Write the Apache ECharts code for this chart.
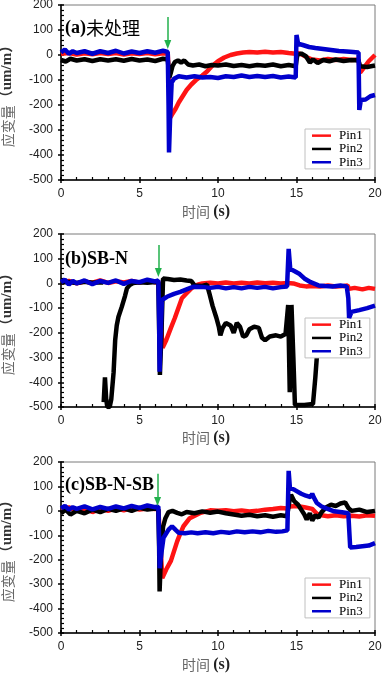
<!DOCTYPE html>
<html><head><meta charset="utf-8">
<script src="https://cdn.jsdelivr.net/npm/echarts@6/dist/echarts.min.js"></script>
<style>html,body{margin:0;padding:0;background:#fff}#c{width:382px;height:674px}</style>
</head><body><div id="c"></div>
<script>
// ---- data ----
const seriesNames = ['Pin1', 'Pin2', 'Pin3'];
const panelTitles = [['(a)', '未处理'], ['(b)SB-N', ''], ['(c)SB-N-SB', '']];
const xRange = [0, 20, 5];
const yRange = [-500, 200, 100];
// green arrow: x, top value, tip value
const arrowX = [6.8, 6.2, 6.15];
const arrowTop = [152, 155, 152];
const arrowTip = [42, 44, 38];

const a_pin1 = [[0,5],[0.5,8],[1,2],[1.5,7],[2,3],[2.5,8],[3,4],[3.5,8],[4,2],[4.5,7],[5,4],[5.5,8],[6,3],[6.5,7],[6.8,5],[6.87,-80],[6.97,-250],[7.1,-235],[7.3,-215],[7.5,-190],[7.8,-160],[8,-140],[8.3,-118],[8.6,-100],[9,-82],[9.3,-66],[9.6,-45],[10,-25],[10.4,-10],[10.8,0],[11.2,6],[11.6,10],[12,12],[12.5,10],[13,13],[13.5,10],[14,12],[14.5,8],[14.95,5],[15.1,8],[15.4,0],[15.7,-10],[16,-18],[16.5,-22],[17,-16],[17.5,-20],[18,-16],[18.5,-20],[18.95,-18],[19.05,-70],[19.3,-50],[19.6,-25],[20,0]];
const a_pin2 = [[0,-20],[0.3,-26],[0.6,-15],[1,-22],[1.5,-17],[2,-24],[2.5,-17],[3,-22],[3.5,-17],[4,-23],[4.5,-16],[5,-22],[5.5,-18],[6,-24],[6.5,-15],[6.8,-18],[6.9,-90],[7.0,-70],[7.1,-45],[7.25,-28],[7.45,-22],[7.65,-30],[7.85,-22],[8.1,-38],[8.4,-42],[8.8,-38],[9.2,-45],[9.6,-40],[10,-42],[10.5,-38],[11,-44],[11.5,-40],[12,-45],[12.5,-40],[13,-43],[13.5,-38],[14,-45],[14.5,-40],[14.95,-45],[15.05,0],[15.3,6],[15.6,-5],[15.85,-30],[16.05,-18],[16.35,-32],[16.7,-20],[17.1,-25],[17.5,-18],[18,-24],[18.5,-20],[18.95,-22],[19.05,-45],[19.5,-48],[20,-42]];
const a_pin3 = [[0,10],[0.25,22],[0.5,5],[0.75,15],[1,8],[1.5,15],[2,5],[2.5,15],[3,8],[3.5,17],[4,6],[4.5,14],[5,8],[5.5,15],[6,9],[6.5,17],[6.8,12],[6.85,-200],[6.88,-390],[6.95,-250],[7.05,-110],[7.2,-95],[7.5,-85],[8,-90],[8.5,-85],[9,-90],[9.5,-88],[10,-92],[10.5,-85],[11,-88],[11.5,-82],[12,-88],[12.5,-84],[13,-88],[13.5,-84],[14,-90],[14.5,-86],[14.95,-90],[15,80],[15.1,45],[15.4,40],[15.8,32],[16.2,28],[16.7,24],[17.2,20],[17.7,16],[18.2,14],[18.6,12],[18.95,10],[19,-220],[19.1,-180],[19.4,-178],[19.7,-165],[20,-160]];

const b_pin1 = [[0,5],[0.5,10],[1,0],[1.5,8],[2,3],[2.5,12],[3,2],[3.5,9],[4,4],[4.5,10],[5,3],[5.5,12],[6,5],[6.2,8],[6.3,-100],[6.47,-260],[6.7,-230],[7,-180],[7.25,-140],[7.5,-95],[7.7,-60],[8,-40],[8.3,-20],[8.7,-5],[9,0],[9.5,3],[10,0],[10.5,4],[11,0],[11.5,3],[12,0],[12.5,4],[13,1],[13.5,3],[14,0],[14.45,2],[14.55,8],[14.8,0],[15.2,-8],[15.6,-12],[16,-10],[16.5,-12],[17,-8],[17.5,-12],[18,-10],[18.25,-8],[18.35,-22],[18.7,-18],[19.2,-24],[19.6,-18],[20,-22]];
const b_pin2 = [[0,4],[0.5,6],[1,2],[1.5,7],[2,3],[2.5,5],[2.7,4],[2.71,null],[2.72,-480],[2.8,-380],[2.88,-470],[2.95,-500],[3.1,-500],[3.2,-470],[3.35,-360],[3.45,-230],[3.55,-170],[3.66,-135],[3.87,-95],[4.08,-50],[4.2,-20],[4.4,-5],[4.6,2],[5,5],[5.5,3],[6,6],[6.2,4],[6.3,-370],[6.4,-200],[6.5,20],[6.8,18],[7.2,14],[7.6,16],[8,12],[8.3,10],[8.5,-8],[9,-10],[9.3,-5],[9.45,-40],[9.65,-90],[9.9,-140],[10.05,-175],[10.15,-210],[10.3,-180],[10.5,-160],[10.8,-170],[11.0,-200],[11.2,-160],[11.4,-175],[11.6,-215],[11.8,-210],[12.0,-185],[12.3,-175],[12.6,-180],[12.8,-220],[13.0,-230],[13.3,-215],[13.7,-210],[14.0,-215],[14.3,-205],[14.42,-210],[14.47,-87],[14.57,-440],[14.68,-87],[14.8,-300],[14.9,-492],[15.5,-492],[16.05,-488],[16.2,-380],[16.35,-250]];
const b_pin3 = [[0,5],[0.25,15],[0.5,-5],[0.75,10],[1,0],[1.5,12],[2,-3],[2.5,10],[3,2],[3.5,12],[4,-2],[4.5,10],[5,5],[5.5,15],[6,8],[6.2,12],[6.25,-150],[6.28,-357],[6.35,-200],[6.43,-67],[6.75,-54],[7.2,-42],[7.6,-34],[8,-24],[8.45,-13],[9,-14],[9.5,-18],[10,-14],[10.5,-20],[11,-15],[11.5,-20],[12,-14],[12.5,-18],[13,-14],[13.5,-20],[14,-15],[14.4,-12],[14.5,140],[14.6,60],[14.8,52],[15.2,38],[15.5,20],[15.9,5],[16.4,-8],[16.8,-10],[17.3,-12],[17.8,-8],[18.2,-12],[18.3,-60],[18.35,-140],[18.5,-115],[19,-108],[19.5,-100],[20,-90]];

const c_pin1 = [[0,8],[0.5,14],[1,0],[1.5,10],[2,-5],[2.5,8],[3,0],[3.5,10],[4,2],[4.5,12],[5,5],[5.5,10],[6,8],[6.2,5],[6.3,-100],[6.45,-275],[6.7,-240],[7,-205],[7.2,-165],[7.4,-125],[7.6,-92],[7.8,-63],[8.2,-30],[8.9,-8],[9.5,2],[10,0],[10.5,3],[11,-2],[11.5,2],[12,-3],[12.5,0],[13,5],[13.5,8],[14,12],[14.4,10],[14.6,18],[15,20],[15.5,15],[16,8],[16.3,-12],[16.6,-18],[17,-22],[17.5,-18],[18,-22],[18.5,-20],[19,-23],[19.5,-18],[20,-20]];
const c_pin2 = [[0,-10],[0.3,5],[0.6,-15],[1,0],[1.5,-10],[2,5],[2.5,-5],[3,8],[3.5,0],[4,10],[4.5,0],[5,12],[5.5,5],[6,10],[6.2,5],[6.25,-150],[6.28,-330],[6.38,-160],[6.5,-65],[6.65,-30],[6.85,-5],[7.1,0],[7.4,-8],[7.7,-14],[8,-5],[8.5,-10],[9,-2],[9.5,-8],[10,-3],[10.5,-10],[11,-15],[11.5,-20],[12,-16],[12.5,-22],[13,-18],[13.5,-24],[14,-18],[14.4,-22],[14.55,40],[14.65,66],[14.85,40],[15.1,25],[15.3,5],[15.5,-15],[15.65,-35],[15.85,-10],[16.0,-40],[16.2,-18],[16.4,-28],[16.6,-5],[16.9,15],[17.2,25],[17.5,20],[17.8,30],[18.1,35],[18.3,12],[18.5,0],[19,5],[19.5,-5],[20,0]];
const c_pin3 = [[0,10],[0.25,20],[0.5,5],[0.75,15],[1,8],[1.5,18],[2,6],[2.5,16],[3,8],[3.5,18],[4,10],[4.5,20],[5,12],[5.5,22],[6,15],[6.2,18],[6.25,-120],[6.28,-235],[6.4,-170],[6.53,-110],[6.85,-77],[7.07,-63],[7.3,-78],[7.5,-90],[7.9,-92],[8.3,-88],[8.7,-92],[9.2,-88],[9.7,-92],[10.2,-86],[10.7,-90],[11.2,-84],[11.7,-88],[12.2,-84],[12.7,-88],[13.2,-82],[13.7,-86],[14.1,-84],[14.42,-80],[14.5,164],[14.58,95],[14.9,85],[15.3,70],[15.6,62],[15.9,56],[16.0,70],[16.1,55],[16.3,32],[16.6,18],[16.9,10],[17.4,-2],[17.9,-6],[18.3,-10],[18.42,-150],[18.8,-148],[19.2,-145],[19.6,-142],[20,-132]];

const panelData = [[a_pin1, a_pin2, a_pin3], [b_pin1, b_pin2, b_pin3], [c_pin1, c_pin2, c_pin3]];

// ---- layout / style ----
const colors = ['#ff1414', '#000000', '#0000cc'];
const gridTops = [5, 234, 462];
const gridHeights = [175, 173, 171];
const legendTops = [129, 318, 578];
const titleY = [29, 260, 486.5];
const xNameY = [212, 438, 665];
const serif = "'Liberation Serif', 'Times New Roman', serif";
const cjk = "'Noto Sans CJK SC', sans-serif";
const sans = "'Liberation Sans', Arial, sans-serif";

const grid = [], xAxis = [], yAxis = [], series = [], legend = [], graphic = [];
for (let p = 0; p < 3; p++) {
  grid.push({ left: 61, right: 7, top: gridTops[p], height: gridHeights[p], containLabel: false, outerBoundsMode: 'none', show: true, borderColor: '#7a7a7a', borderWidth: 1, backgroundColor: 'transparent' });
  const xBase = { type: 'value', gridIndex: p, min: xRange[0], max: xRange[1], interval: xRange[2], position: 'bottom', splitLine: { show: false } };
  xAxis.push(Object.assign({}, xBase, {
    axisLine: { show: true, onZero: false, lineStyle: { color: '#000', width: 1.5 } },
    axisTick: { show: true, length: 3, lineStyle: { color: '#000', width: 1.5 } },
    axisLabel: { margin: 8, fontSize: 12, color: '#222', fontFamily: sans }
  }));
  xAxis.push(Object.assign({}, xBase, {
    axisLine: { show: false, onZero: false },
    axisTick: { show: true, inside: true, length: 3, lineStyle: { color: '#000', width: 1.5 } },
    minorTick: { show: true, splitNumber: 5, length: 3, lineStyle: { color: '#000', width: 1.2 } },
    axisLabel: { show: false }
  }));
  const yBase = { type: 'value', gridIndex: p, min: yRange[0], max: yRange[1], interval: yRange[2], position: 'left', splitLine: { show: false } };
  yAxis.push(Object.assign({}, yBase, {
    axisLine: { show: true, onZero: false, lineStyle: { color: '#000', width: 1.5 } },
    axisTick: { show: true, length: 3, lineStyle: { color: '#000', width: 1.5 } },
    axisLabel: { margin: 8, fontSize: 12, color: '#222', fontFamily: sans },
    name: '{a|应变量}{b|（um/m）}', nameLocation: 'middle', nameRotate: 90, nameGap: 46,
    nameTextStyle: { rich: {
      a: { fontFamily: cjk, fontSize: 14, color: '#666' },
      b: { fontFamily: "'Liberation Serif', 'Noto Sans CJK SC', serif", fontWeight: 'bold', fontSize: 15, color: '#333' }
    } }
  }));
  yAxis.push(Object.assign({}, yBase, {
    axisLine: { show: false, onZero: false },
    axisTick: { show: true, inside: true, length: 3, lineStyle: { color: '#000', width: 1.5 } },
    minorTick: { show: true, splitNumber: 5, length: 3, lineStyle: { color: '#000', width: 1.2 } },
    axisLabel: { show: false }
  }));
  for (let s = 0; s < 3; s++) {
    const ser = {
      type: 'line', name: seriesNames[s], xAxisIndex: 2 * p, yAxisIndex: 2 * p,
      data: panelData[p][s], showSymbol: false, symbol: 'none', animation: false, connectNulls: false,
      color: colors[s], lineStyle: { color: colors[s], width: 4.5, join: 'bevel' }, z: 2 + s
    };
    if (s === 2) {
      ser.markLine = {
        silent: true, animation: false, symbol: ['none', 'triangle'], symbolSize: [7, 9],
        label: { show: false },
        lineStyle: { color: '#22b14c', width: 1.5, type: 'solid' },
        data: [[{ coord: [arrowX[p], arrowTop[p]] }, { coord: [arrowX[p], arrowTip[p]] }]]
      };
    }
    series.push(ser);
  }
  legend.push({
    data: seriesNames, orient: 'vertical', left: 305, top: legendTops[p],
    backgroundColor: '#fff', borderColor: '#c0c0c0', borderWidth: 1, borderRadius: 0,
    padding: [0, 7, 0, 7], itemGap: 0, itemWidth: 19, itemHeight: 2.5, icon: 'rect',
    selectedMode: false,
    textStyle: { fontFamily: serif, fontSize: 13, color: '#000', lineHeight: 13.3, padding: [0, 0, 0, 3] }
  });
  graphic.push({
    type: 'text', left: 65, top: titleY[p] - 10, z: 10,
    style: {
      text: '{b|' + panelTitles[p][0] + '}' + (panelTitles[p][1] ? '{c|' + panelTitles[p][1] + '}' : ''),
      rich: {
        b: { fontFamily: serif, fontWeight: 'bold', fontSize: 18, fill: '#000' },
        c: { fontFamily: cjk, fontSize: 18, fill: '#000' }
      }
    }
  });
  graphic.push({
    type: 'text', x: 206, y: xNameY[p], z: 10,
    style: {
      text: '{a|时间} {b|(s)}', align: 'center', verticalAlign: 'middle',
      rich: {
        a: { fontFamily: cjk, fontSize: 14, fill: '#666' },
        b: { fontFamily: serif, fontWeight: 'bold', fontSize: 16, fill: '#222' }
      }
    }
  });
}

const chart = echarts.init(document.getElementById('c'), null, { renderer: 'canvas' });
chart.setOption({ animation: false, backgroundColor: '#fff', grid, xAxis, yAxis, series, legend, graphic });
</script></body></html>
